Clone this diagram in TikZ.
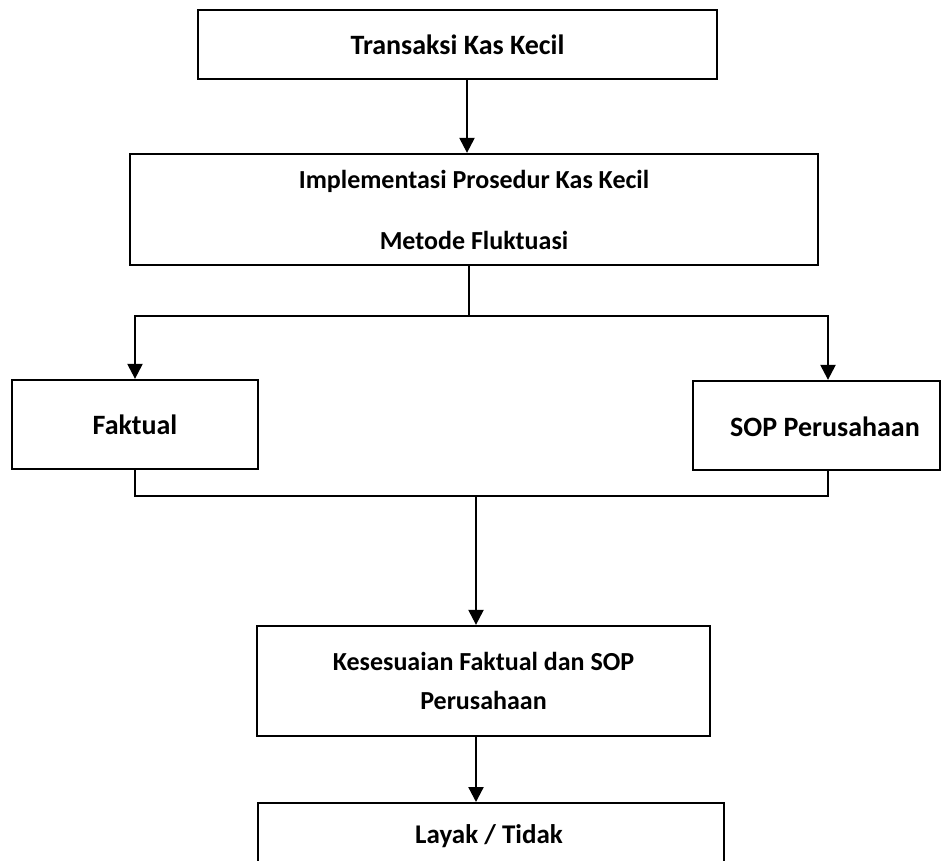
\documentclass[tikz,border=0pt]{standalone}
\usepackage{fontspec}
\setmainfont{Carlito}
\usetikzlibrary{arrows.meta}
\begin{document}
\begin{tikzpicture}[x=1pt,y=-1pt,
  box/.style={draw, line width=2.3pt, inner sep=0pt, align=center},
  txtbig/.style={font=\bfseries\fontsize{28}{34}\selectfont},
  conn/.style={line width=2.3pt},
  arr/.style={conn, -{Triangle[width=15pt,length=15pt]}}]
\useasboundingbox (0,0) rectangle (942,860);
\clip (0,0) rectangle (942,860);
\fill[white] (0,0) rectangle (942,860);

% boxes
\node[box, txtbig, minimum width=519, minimum height=69] (b1) at (457.5,44.5) {Transaksi Kas Kecil};
\node[box, font=\bfseries\fontsize{26}{61}\selectfont, minimum width=688, minimum height=111] (b2) at (474,209.5) {Implementasi Prosedur Kas Kecil\\Metode Fluktuasi};
\node[box, txtbig, minimum width=246, minimum height=89] (fak) at (135,424.5) {Faktual};
\node[box, minimum width=247, minimum height=89] (sop) at (816.5,425.5) {};
\node[txtbig] (soptxt) at (825,427) {SOP Perusahaan};
\node[box, font=\bfseries\fontsize{26}{39}\selectfont, minimum width=453, minimum height=110] (b3) at (483.5,681) {Kesesuaian Faktual dan SOP\\Perusahaan};
\node[box, anchor=north, minimum width=466, minimum height=96] (b4) at (491,802) {};
\node[font=\bfseries\fontsize{27}{32}\selectfont] (b4txt) at (489,836) {Layak / Tidak};

% helper coordinates
\coordinate (c1) at (467,0);
\coordinate (s1) at (469,316);
\coordinate (s2) at (828,0);
\coordinate (j) at (476,496);

% connectors
\draw[arr] (c1 |- b1.south) -- (c1 |- b2.north);
\draw[conn] (s1 |- b2.south) -- (s1);
\draw[arr] (s1) -| (fak.north);
\draw[arr] (s1) -| (s2 |- sop.north);
\draw[conn] (fak.south) |- (j);
\draw[conn] (s2 |- sop.south) |- (j);
\draw[arr] (j) -- (j |- b3.north);
\draw[arr] (j |- b3.south) -- (j |- b4.north);
\end{tikzpicture}
\end{document}
